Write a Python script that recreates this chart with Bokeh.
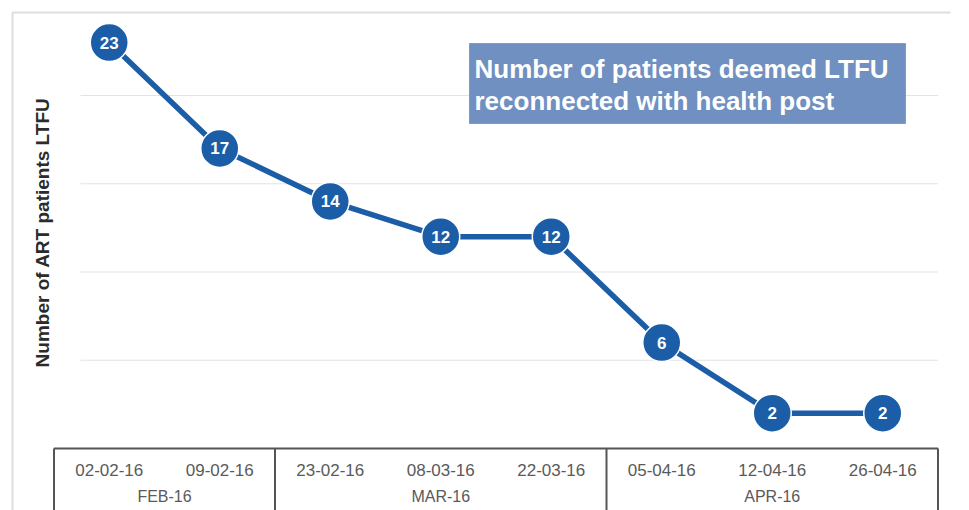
import numpy as np
from bokeh.plotting import figure
from bokeh.models import Range1d, ColumnDataSource
from bokeh.core.properties import value
from bokeh.embed import file_html
from bokeh.resources import INLINE

# ---- data ----
dates = ["02-02-16", "09-02-16", "23-02-16", "08-03-16", "22-03-16", "05-04-16", "12-04-16", "26-04-16"]
patients = [23, 17, 14, 12, 12, 6, 2, 2]
months = ["FEB-16", "MAR-16", "APR-16"]
month_counts = [2, 3, 3]
grid_values = [5, 10, 15, 20]
y_title = "Number of ART patients LTFU"
note_lines = ["Number of patients deemed LTFU", "reconnected with health post"]

# ---- layout helpers (pixel -> data) ----
W, H = 969, 510
X0, XU = 53.5, 110.5     # px of category edge 0, px per category
Y0, YU = 448.0, 17.65    # px of value 0, px per unit
def dx(px):
    return (px - X0) / XU
def dy(py):
    return (Y0 - py) / YU

p = figure(width=W, height=H, output_backend="svg", toolbar_location=None,
           x_range=Range1d(dx(0), dx(W)), y_range=Range1d(dy(H), dy(0)),
           x_axis_location=None, y_axis_location=None, min_border=0,
           background_fill_color="white", border_fill_color="white")
p.outline_line_color = None
p.grid.visible = False

FONT = value("Liberation Sans")

# outer light frame (left and top edges)
p.segment(x0=[dx(12), dx(12)], y0=[dy(12), dy(12)], x1=[dx(12), dx(950)], y1=[dy(530), dy(12)],
          line_color="#dedede", line_width=2)

# horizontal gridlines
p.segment(x0=[dx(80)] * len(grid_values), y0=grid_values,
          x1=[len(dates)] * len(grid_values), y1=grid_values,
          line_color="#e3e3e3", line_width=1.2)

# table below: top line + group dividers
n = len(dates)
bounds = np.concatenate([[0], np.cumsum(month_counts)])
ybot = dy(H + 20)
p.segment(x0=[0], y0=[0], x1=[n], y1=[0], line_color="#555555", line_width=2)
p.segment(x0=list(bounds), y0=[0] * len(bounds), x1=list(bounds), y1=[ybot] * len(bounds),
          line_color="#555555", line_width=2)

xs = np.arange(n) + 0.5
p.text(x=list(xs), y=[dy(469)] * n, text=dates, text_font=FONT, text_font_size="17px",
       text_color="#5a5a5a", text_align="center", text_baseline="middle")
mcent = (bounds[:-1] + bounds[1:]) / 2.0
p.text(x=list(mcent), y=[dy(496)] * len(months), text=months, text_font=FONT, text_font_size="16px",
       text_color="#5a5a5a", text_align="center", text_baseline="middle")

# y title
p.text(x=[dx(42)], y=[dy(232)], text=[y_title], angle=np.pi / 2, text_font=FONT,
       text_font_size="19px", text_font_style="bold", text_color="#2b2b2b",
       text_align="center", text_baseline="middle")

# annotation box
p.quad(left=[dx(469)], right=[dx(905)], top=[dy(43)], bottom=[dy(123)],
       fill_color="#6f90c0", line_color="#7d9bc8", line_width=1)
p.text(x=[dx(474)] * 2, y=[dy(68), dy(100)], text=note_lines, text_font=FONT,
       text_font_size="26px", text_font_style="bold", text_color="white",
       text_align="left", text_baseline="middle")

# series
src = ColumnDataSource(dict(x=xs, y=patients, lab=[str(v) for v in patients]))
p.line("x", "y", source=src, line_color="#1b5da7", line_width=5.5)
p.scatter("x", "y", source=src, size=38, marker="circle", fill_color="#1b5da7",
          line_color="white", line_width=1.5)
p.text("x", "y", text="lab", source=src, text_font=FONT, text_font_size="17px",
       text_font_style="bold", text_color="white", text_align="center", text_baseline="middle")

open("out.html", "w").write(file_html(p, INLINE))
